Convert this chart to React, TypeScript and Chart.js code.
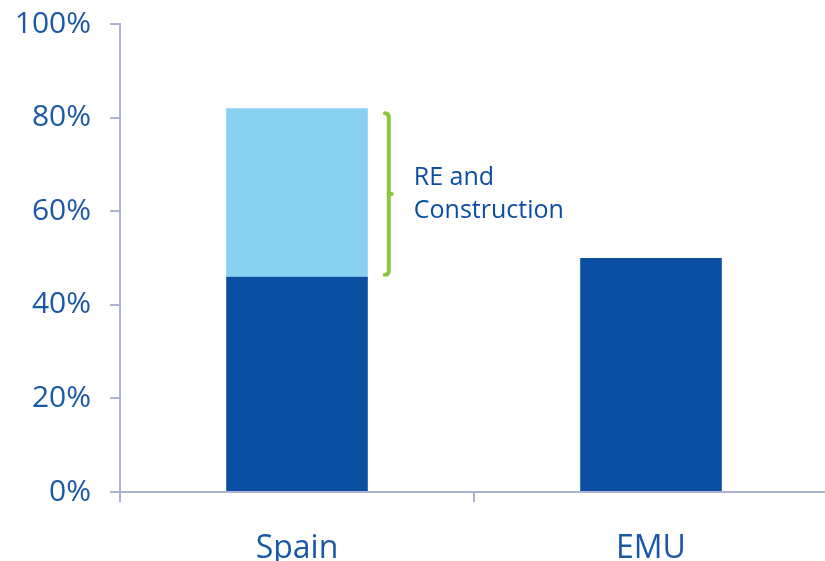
import React, { useEffect, useRef } from "react";
import { Chart, registerables } from "chart.js";

Chart.register(...registerables);

const categories = ["Spain", "EMU"];
const otherSectors = [46, 50];
const reConstruction = [36, 0];
const yTicks = [0, 20, 40, 60, 80, 100];
const annotationLines = ["RE and", "Construction"];

const DARK = "#0a4fa2";
const LIGHT = "#89d1f1";
const AXIS = "#aeb3d3";
const TEXT = "#1b58a6";
const GREEN = "#8cc63f";

const bracketPlugin = {
  id: "bracket",
  afterDatasetsDraw(chart: any) {
    const { ctx, scales } = chart;
    const meta = chart.getDatasetMeta(1);
    const bar = meta.data[0];
    if (!bar) return;
    const props = bar.getProps(["x", "width"], true);
    const xLine = props.x + props.width / 2 + 21;
    const top = scales.y.getPixelForValue(otherSectors[0] + reConstruction[0]) + 5;
    const bottom = scales.y.getPixelForValue(otherSectors[0]) - 2;
    const mid = (top + bottom) / 2;
    ctx.save();
    ctx.strokeStyle = GREEN;
    ctx.lineWidth = 4;
    ctx.lineCap = "round";
    ctx.lineJoin = "round";
    ctx.beginPath();
    ctx.moveTo(xLine - 4, top);
    ctx.quadraticCurveTo(xLine, top, xLine, top + 4);
    ctx.lineTo(xLine, bottom - 4);
    ctx.quadraticCurveTo(xLine, bottom, xLine - 4, bottom);
    ctx.stroke();
    ctx.beginPath();
    ctx.moveTo(xLine, mid);
    ctx.lineTo(xLine + 3, mid);
    ctx.stroke();
    ctx.fillStyle = "#0b4ea2";
    ctx.font = "25px 'Open Sans'";
    ctx.textAlign = "left";
    ctx.textBaseline = "alphabetic";
    ctx.fillText(annotationLines[0], xLine + 25, mid - 9);
    ctx.fillText(annotationLines[1], xLine + 25, mid + 24);
    ctx.restore();
  },
};

export default function App() {
  const ref = useRef<HTMLCanvasElement>(null);
  useEffect(() => {
    if (!ref.current) return;
    const chart = new Chart(ref.current, {
      type: "bar",
      data: {
        labels: categories,
        datasets: [
          { label: "Other sectors", data: otherSectors, backgroundColor: DARK, categoryPercentage: 1, barPercentage: 0.4 },
          { label: "RE and Construction", data: reConstruction, backgroundColor: LIGHT, categoryPercentage: 1, barPercentage: 0.4 },
        ],
      },
      options: {
        animation: false,
        responsive: true,
        maintainAspectRatio: false,
        layout: { padding: { top: 24, right: 2, left: 0, bottom: 0 } },
        plugins: { legend: { display: false }, tooltip: { enabled: false } },
        scales: {
          x: {
            stacked: true,
            grid: { display: true, drawOnChartArea: false, offset: true, tickLength: 10, color: AXIS, lineWidth: 2 },
            border: { display: true, color: AXIS, width: 2 },
            ticks: { color: TEXT, font: { family: "'Open Sans'", size: 32 }, padding: 28 },
            afterFit(scale: any) { scale.height = 69; },
          },
          y: {
            stacked: true,
            min: 0,
            max: 100,
            afterBuildTicks(scale: any) { scale.ticks = yTicks.map((v) => ({ value: v })); },
            grid: { display: true, drawOnChartArea: false, tickLength: 10, color: AXIS, lineWidth: 2 },
            border: { display: true, color: AXIS, width: 2 },
            ticks: {
              color: TEXT,
              font: { family: "'Open Sans'", size: 30 },
              padding: 19,
              callback: (v: any) => v + "%",
            },
            afterFit(scale: any) {
              scale.width = 120;
              scale.paddingTop = 0;
              scale.paddingBottom = 0;
            },
          },
        },
      },
      plugins: [bracketPlugin],
    });
    return () => chart.destroy();
  }, []);
  return (
    <div style={{ position: "fixed", left: 0, top: 0, width: 830, height: 561 }}>
      <canvas ref={ref} />
    </div>
  );
}
